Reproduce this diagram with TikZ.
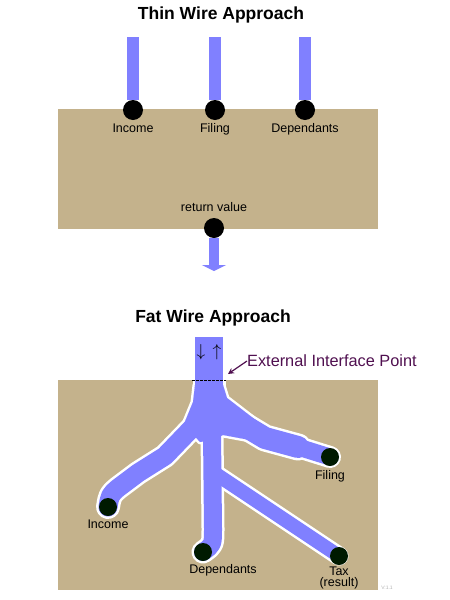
\documentclass[tikz,border=0pt]{standalone}
\usepackage{fontspec}
\setmainfont{Liberation Sans}
\usetikzlibrary{positioning, arrows.meta}
\definecolor{paneltan}{RGB}{196,178,140}
\definecolor{wireblue}{RGB}{128,128,255}
\definecolor{dotgreen}{RGB}{0,26,0}
\definecolor{extpurple}{RGB}{80,16,80}

\begin{document}
\begin{tikzpicture}[
  x=1pt, y=-1pt,
  panel/.style={fill=paneltan, inner sep=0pt},
  ttl/.style={font=\fontsize{17.5}{19}\selectfont\bfseries, inner sep=0pt},
  lbl/.style={font=\fontsize{12.5}{11}\selectfont, inner sep=0pt, align=center},
  tdot/.style={circle, fill=black, minimum size=20pt, inner sep=0pt},
  fdot/.style={circle, fill=dotgreen, minimum size=18pt, inner sep=0pt},
  thinwire/.style={draw=wireblue, line width=12pt},
  fatwire/.style={draw=#1, line cap=round, line join=round},
  arrglyph/.style={font=\fontsize{17}{17}\selectfont, inner sep=0pt},
  extarr/.style={draw=extpurple, line width=1.2pt, -{Stealth[length=6pt, width=6pt]}},
]
\useasboundingbox (0,0) rectangle (450,600);

% Top: thin wires
\node[ttl] (thinTitle) at (221,15) {Thin Wire Approach};
\node[panel, minimum width=320pt, minimum height=120pt] (thinPanel) at (218,169) {};

\foreach \nm/\xx/\txt in {Inc/133/Income, Fil/215/Filing, Dep/305/Dependants}{
  \coordinate (w\nm) at (\xx,37);
  \node[tdot] (t\nm) at (\xx,110) {};
  \draw[thinwire] (w\nm) -- (t\nm);
  \node[lbl, below=3pt of t\nm] (l\nm) {\txt};
}

% Return value
\node[tdot] (tRet) at (214,228) {};
\node[lbl, above=6pt of tRet] (lRet) {return value};
\coordinate (retTip) at (214,271);
\draw[thinwire, line width=10pt, -{Triangle[width=24pt, length=6pt]}] (tRet) -- (retTip);

% Bottom: fat wire
\node[ttl] (fatTitle) at (213,318) {Fat Wire Approach};
\node[panel, minimum width=320pt, minimum height=210pt] (fatPanel) at (218,485) {};

\coordinate (stemTop) at (209,337);
\coordinate (stemBot) at (209,396);
\coordinate (incRoot) at (192,428);
\coordinate (filRoot) at (235,420);
\coordinate (depRoot) at (212,432);
\coordinate (taxRoot) at (213,472);
\coordinate (fInc) at (108,507);
\coordinate (fFil) at (330,457);
\coordinate (fDep) at (203,552);
\coordinate (fTax) at (339,556);

% white rim first, then the blue core
\foreach \wcol/\extra in {white/5, wireblue/0}{
  \draw[fatwire=\wcol, line width=28+\extra, line cap=butt] (stemTop) -- (stemBot);
  \path[fatwire=\wcol, fill=\wcol, line width=\extra+0.01]
    (195,385) -- (193,402) -- (184,424) -- (200,442) -- (212,440) -- (223,435)
    -- (250,440) -- (262,425) -- (240,408) -- (227,398) -- (223,385) -- cycle;
  \draw[fatwire=\wcol, line width=19+\extra] (incRoot) -- (165,456)
    .. controls (152,465) .. (138,473) -- (118,488) .. controls (110,495) .. (fInc);
  \draw[fatwire=\wcol, line width=22+\extra] (filRoot) -- (265,438) -- (298,447);
  \draw[fatwire=\wcol, line width=17+\extra] (298,447) -- (fFil);
  \draw[fatwire=\wcol, line width=18+\extra] (depRoot) -- (213,528)
    .. controls (213,545) .. (fDep);
  \draw[fatwire=\wcol, line width=14+\extra] (taxRoot) -- (fTax);
}

\node[fdot] (dInc) at (fInc) {};
\node[fdot] (dFil) at (fFil) {};
\node[fdot] (dDep) at (fDep) {};
\node[fdot] (dTax) at (fTax) {};

\node[lbl, below=3pt of dInc] (bInc) {Income};
\node[lbl, below=4pt of dFil] (bFil) {Filing};
\node[lbl, below=3pt of dDep, xshift=20pt] (bDep) {Dependants};
\node[lbl, below=1pt of dTax] (bTax) {Tax\\(result)};

% Interface point
\node[arrglyph] (dnA) at (201,352) {$\downarrow$};
\node[arrglyph] (upA) at (217,352) {$\uparrow$};
\coordinate (ifL) at (192,380);
\coordinate (ifR) at (226,380);
\draw[line width=1pt, dash pattern=on 2.5pt off 1.5pt] (ifL) -- (ifR);

\node[font=\fontsize{16.3}{18}\selectfont, text=extpurple, inner sep=0pt, anchor=west]
  (extLbl) at (247,361) {External Interface Point};
\coordinate (ifPt) at (228,374);
\draw[extarr] (extLbl.west) -- (ifPt);

\node[font=\fontsize{5}{5}\selectfont, text=gray!60, inner sep=0pt] (ver) at (387,588) {V:1.1};
\end{tikzpicture}
\end{document}
